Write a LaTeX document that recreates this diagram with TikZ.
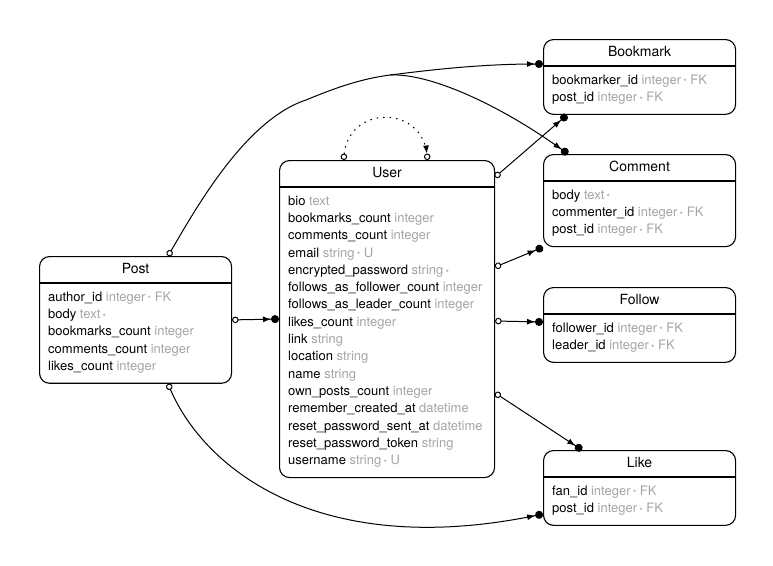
\documentclass[tikz,border=0pt]{standalone}
\usepackage{fontspec}
\setmainfont{TeX Gyre Heros}
\usetikzlibrary{arrows.meta}
\definecolor{typegrey}{RGB}{165,165,165}
\newcommand{\ty}[1]{\textcolor{typegrey}{#1}}
\newcommand{\req}{\,\raisebox{-1.8pt}{\fontsize{9}{9}\selectfont *}}

\begin{document}
\begin{tikzpicture}[x=1pt,y=-1pt,
  entity/.style={draw, fill=white, line width=1.1pt, rounded corners=10pt, anchor=north west, inner sep=0pt, minimum width=192pt},
  etitle/.style={inner sep=0pt, font=\fontsize{14}{16}\selectfont},
  erows/.style={anchor=base west, align=left, inner sep=0pt, font=\fontsize{13}{17.3}\selectfont},
  rel/.style={line width=1pt, {Circle[open,length=6.5pt,width=6.5pt]}-{Latex[length=8pt,width=6pt] Circle[length=8pt,width=8pt]}},
  relbranch/.style={line width=1pt, -{Latex[length=8pt,width=6pt] Circle[length=8pt,width=8pt]}},
  relself/.style={line width=1pt, dash pattern=on 1.5pt off 5pt, {Circle[open,length=6.5pt,width=6.5pt]}-{Latex[length=8pt,width=6pt] Circle[open,length=6.5pt,width=6.5pt]}},
]
\useasboundingbox (0,0) rectangle (773,565);

%Entity: User
\node [entity, minimum width=215pt, minimum height=317pt] (user) at (279,160) {};
\node [etitle] (usertitle) at ([yshift=-12.5pt]user.north) {User};
\draw [line width=1.1pt] ([yshift=-27pt]user.north west) -- ([yshift=-27pt]user.north east);
\node [erows] (userrows) at ([xshift=9pt,yshift=13.5pt]user.south west) {bio \ty{text}\\
bookmarks\_count \ty{integer}\\
comments\_count \ty{integer}\\
email \ty{string\req{} U}\\
encrypted\_password \ty{string\req}\\
follows\_as\_follower\_count \ty{integer}\\
follows\_as\_leader\_count \ty{integer}\\
likes\_count \ty{integer}\\
link \ty{string}\\
location \ty{string}\\
name \ty{string}\\
own\_posts\_count \ty{integer}\\
remember\_created\_at \ty{datetime}\\
reset\_password\_sent\_at \ty{datetime}\\
reset\_password\_token \ty{string}\\
username \ty{string\req{} U}};

%Entity: Post
\node [entity, minimum height=126.7pt] (post) at (39,256) {};
\node [etitle] (posttitle) at ([yshift=-12.5pt]post.north) {Post};
\draw [line width=1.1pt] ([yshift=-27pt]post.north west) -- ([yshift=-27pt]post.north east);
\node [erows] (postrows) at ([xshift=9pt,yshift=13.5pt]post.south west) {author\_id \ty{integer\req{} FK}\\
body \ty{text\req}\\
bookmarks\_count \ty{integer}\\
comments\_count \ty{integer}\\
likes\_count \ty{integer}};

%Entity: Bookmark
\node [entity, minimum height=74.8pt] (bookmark) at (543,39) {};
\node [etitle] (bookmarktitle) at ([yshift=-12.5pt]bookmark.north) {Bookmark};
\draw [line width=1.1pt] ([yshift=-27pt]bookmark.north west) -- ([yshift=-27pt]bookmark.north east);
\node [erows] (bookmarkrows) at ([xshift=9pt,yshift=13.5pt]bookmark.south west) {bookmarker\_id \ty{integer\req{} FK}\\
post\_id \ty{integer\req{} FK}};

%Entity: Comment
\node [entity, minimum height=92.1pt] (comment) at (543,154) {};
\node [etitle] (commenttitle) at ([yshift=-12.5pt]comment.north) {Comment};
\draw [line width=1.1pt] ([yshift=-27pt]comment.north west) -- ([yshift=-27pt]comment.north east);
\node [erows] (commentrows) at ([xshift=9pt,yshift=13.5pt]comment.south west) {body \ty{text\req}\\
commenter\_id \ty{integer\req{} FK}\\
post\_id \ty{integer\req{} FK}};

%Entity: Follow
\node [entity, minimum height=74.8pt] (follow) at (543,287) {};
\node [etitle] (followtitle) at ([yshift=-12.5pt]follow.north) {Follow};
\draw [line width=1.1pt] ([yshift=-27pt]follow.north west) -- ([yshift=-27pt]follow.north east);
\node [erows] (followrows) at ([xshift=9pt,yshift=13.5pt]follow.south west) {follower\_id \ty{integer\req{} FK}\\
leader\_id \ty{integer\req{} FK}};

%Entity: Like
\node [entity, minimum height=74.8pt] (like) at (543,450) {};
\node [etitle] (liketitle) at ([yshift=-12.5pt]like.north) {Like};
\draw [line width=1.1pt] ([yshift=-27pt]like.north west) -- ([yshift=-27pt]like.north east);
\node [erows] (likerows) at ([xshift=9pt,yshift=13.5pt]like.south west) {fan\_id \ty{integer\req{} FK}\\
post\_id \ty{integer\req{} FK}};

%Relations
\coordinate (fork) at (390,75);
\draw [rel] ([xshift=129pt]post.north west) .. controls (195,210) and (245,120) .. (306,100) .. controls (335,88) and (360,79) .. (fork) .. controls (430,70) and (480,64) .. ([yshift=-25pt]bookmark.north west);
\draw [relbranch] (fork) .. controls (430,73) and (500,105) .. ([xshift=25pt]comment.north west);
\draw [rel] ([xshift=129pt]post.south west) .. controls (205,470) and (320,560) .. ([yshift=-64pt]like.north west);
\draw [rel] (post.east) -- (user.west);
\draw [relself] ([xshift=-43.5pt]user.north) .. controls +(6,-55) and +(-6,-55) .. ([xshift=40.5pt]user.north);
\draw [rel] ([yshift=-17pt]user.north east) -- ([xshift=24pt]bookmark.south west);
\draw [rel] ([yshift=-107pt]user.north east) -- (comment.south west);
\draw [rel] ([yshift=-161pt]user.north east) -- ([yshift=-35pt]follow.north west);
\draw [rel] ([yshift=-233pt]user.north east) -- ([xshift=39pt]like.north west);

\end{tikzpicture}
\end{document}
